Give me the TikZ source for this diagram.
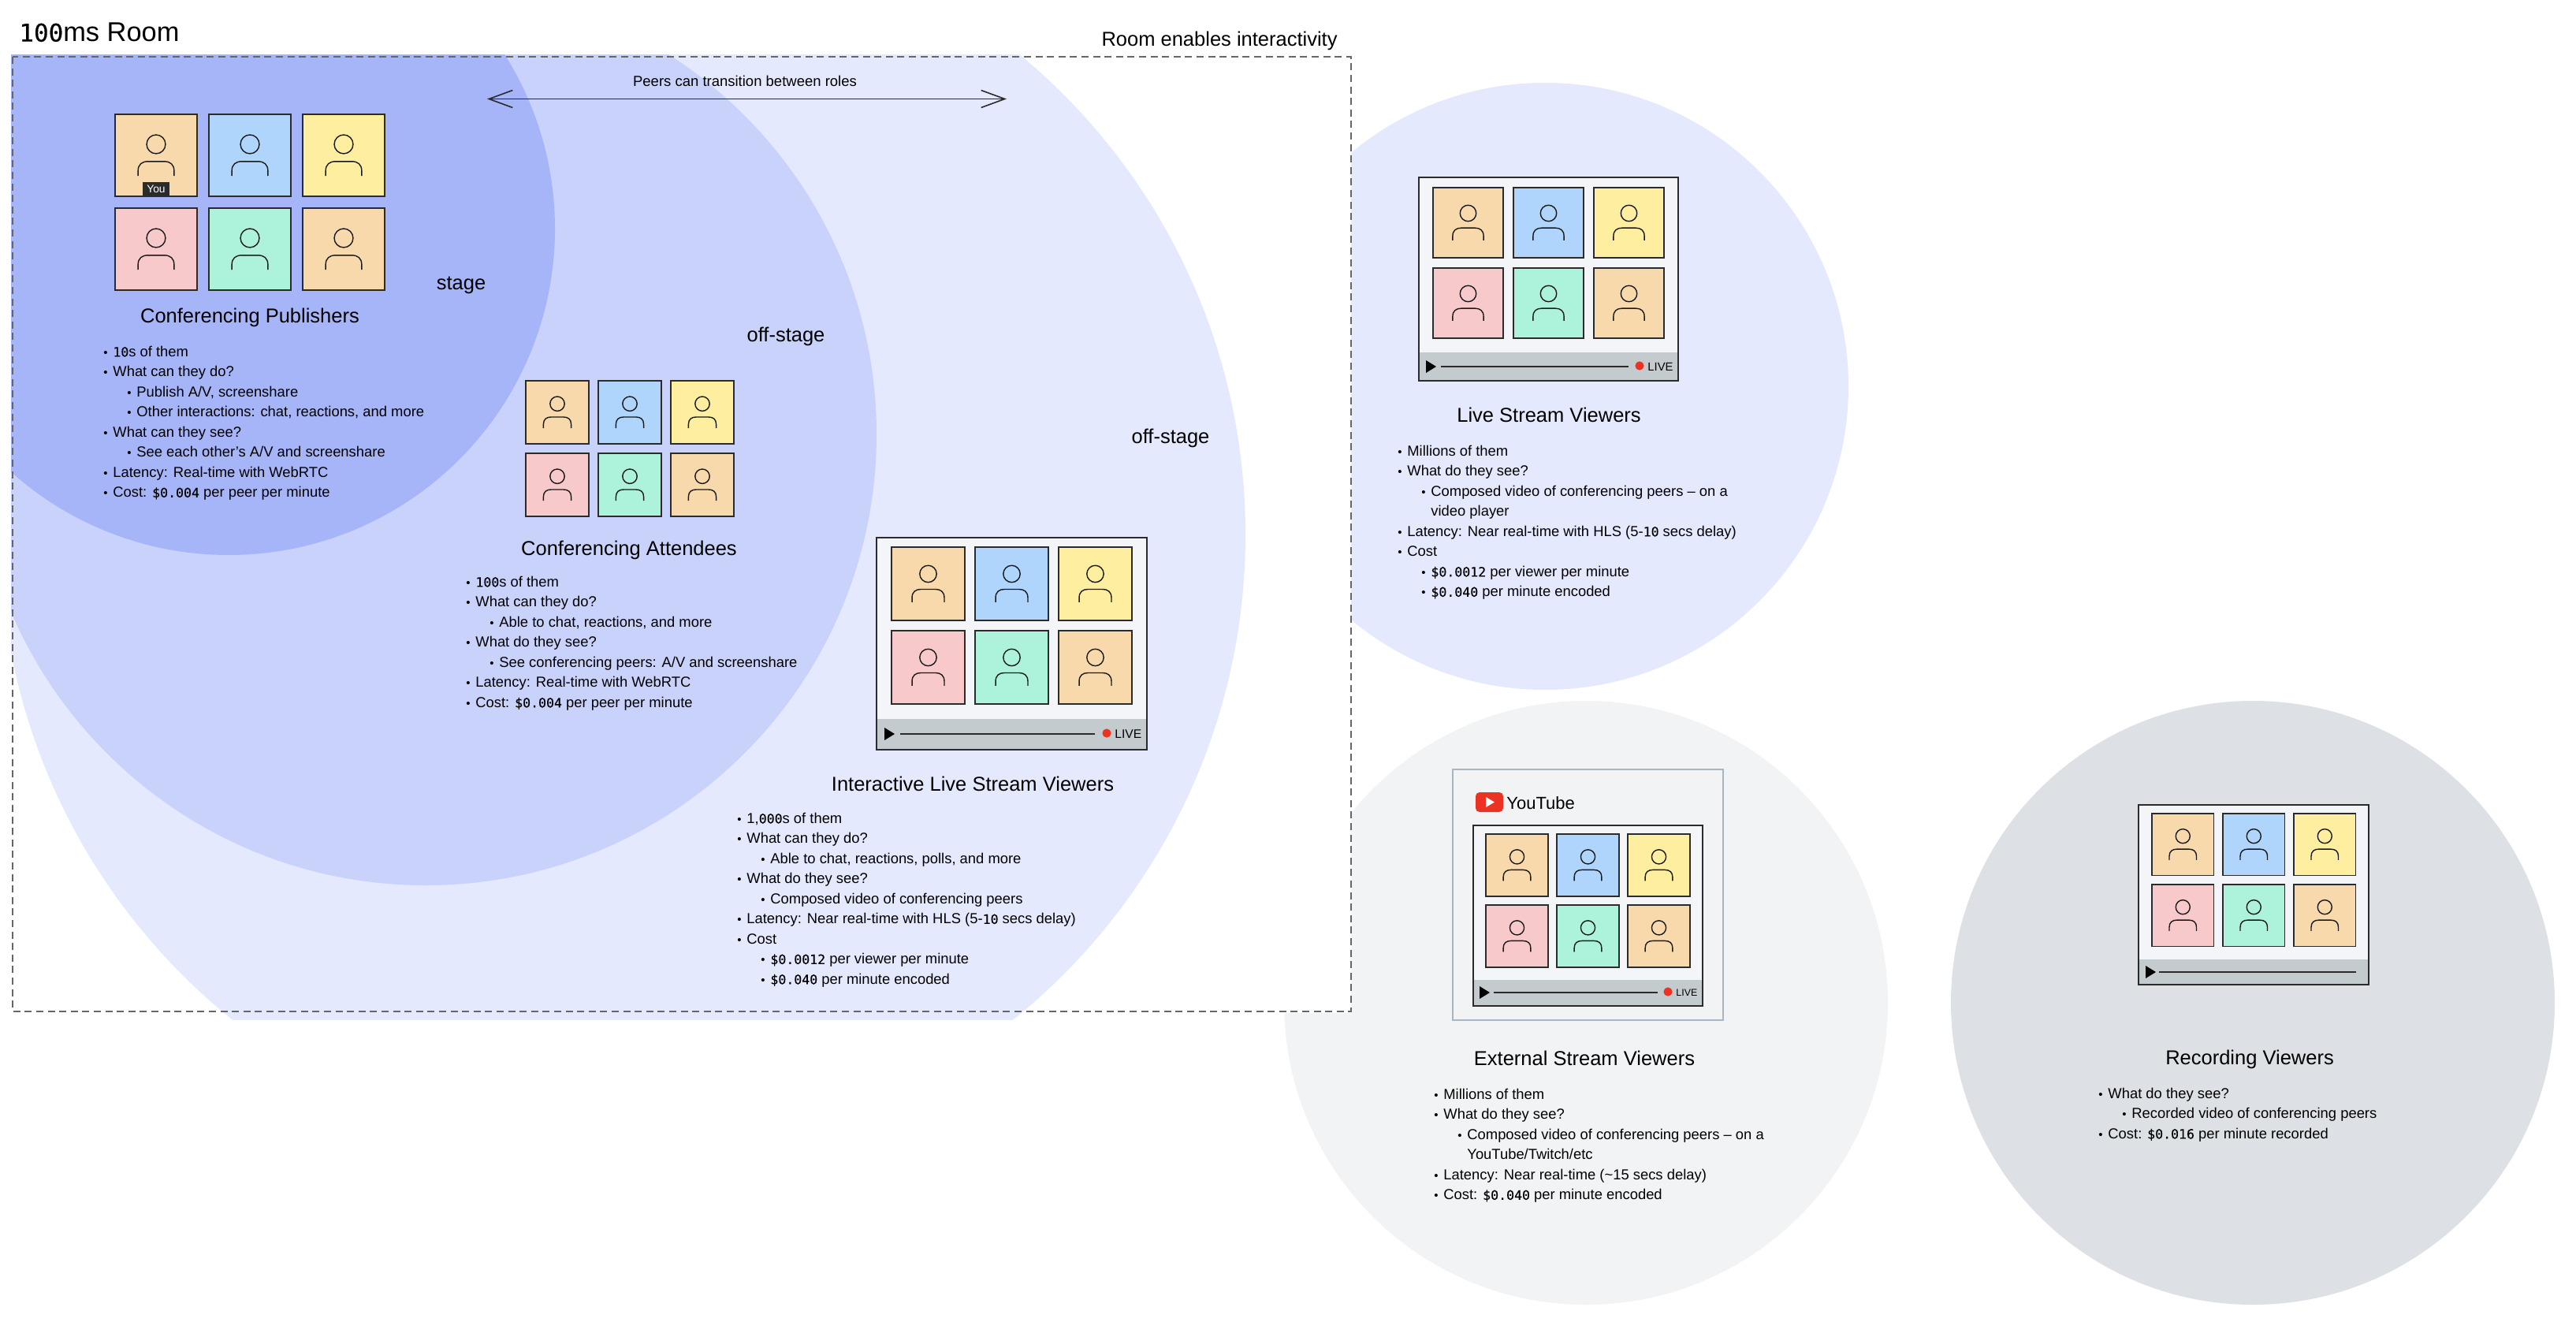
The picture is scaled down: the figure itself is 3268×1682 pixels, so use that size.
\documentclass[tikz,border=0pt]{standalone}
\usepackage{fontspec}
\setmainfont{Liberation Sans}
\newfontfamily\numfont[Scale=0.9,FakeBold=0.25]{DejaVu Sans Mono}
\usetikzlibrary{arrows.meta,positioning}

\definecolor{stagefill}{HTML}{A6B5F8}
\definecolor{attendfill}{HTML}{C8D2FB}
\definecolor{viewerfill}{HTML}{E4E9FE}
\definecolor{extfill}{HTML}{F1F3F5}
\definecolor{recfill}{HTML}{DDE0E5}
\definecolor{tileorange}{HTML}{F8D9AC}
\definecolor{tileblue}{HTML}{AFD5FD}
\definecolor{tileyellow}{HTML}{FEEEA0}
\definecolor{tilepink}{HTML}{F8C9CB}
\definecolor{tilegreen}{HTML}{ADF2DA}
\definecolor{screenfill}{HTML}{F3F5F8}
\definecolor{barfill}{HTML}{C4CBCE}
\definecolor{livered}{HTML}{EA3323}
\definecolor{inkline}{HTML}{2B2B2B}
\definecolor{outerline}{HTML}{A9B5C2}

\tikzset{
  peertile/.style={draw=inkline, line width=0.75pt, rectangle, inner sep=0pt, outer sep=0pt},
  person/.style={draw=black!90, line width=0.7pt},
  screenline/.style={draw=inkline, line width=0.8pt},
  seekline/.style={draw=inkline, line width=0.8pt},
  heading/.style={font=\fontsize{12.75}{15}\selectfont, inner sep=0pt},
  blurb/.style={anchor=north west, align=left, inner sep=0pt, font=\fontsize{9.2}{12.75}\selectfont},
}

\newcommand{\nm}[1]{{\numfont #1}}
\newcommand{\bl}{\rule{0pt}{9pt}\makebox[6pt][l]{\fontsize{7.5}{9}\selectfont\textbullet}}
\newcommand{\sbl}{\hspace{15pt}\bl}
\newcommand{\cbl}{\hspace{21pt}}

\newcommand{\peergrid}[5]{
  \node[peertile, minimum size=#4pt, fill=tileorange, anchor=north west] (#1a) at (#2,#3) {};
  \node[peertile, minimum size=#4pt, fill=tileblue,   right=#5pt of #1a] (#1b) {};
  \node[peertile, minimum size=#4pt, fill=tileyellow, right=#5pt of #1b] (#1c) {};
  \node[peertile, minimum size=#4pt, fill=tilepink,   below=#5pt of #1a] (#1d) {};
  \node[peertile, minimum size=#4pt, fill=tilegreen,  right=#5pt of #1d] (#1e) {};
  \node[peertile, minimum size=#4pt, fill=tileorange, right=#5pt of #1e] (#1f) {};
  \foreach \tl in {a,b,c,d,e,f} {
    \draw[person, shift={(#1\tl.center)}, scale=#4/50] (0,-13.5) circle (11.5)
      (-22,25) -- (-22,19) .. controls (-22,11) and (-17,7.5) .. (-10,7.5) -- (10,7.5)
      .. controls (17,7.5) and (22,11) .. (22,19) -- (22,25);
  }
}
\newcommand{\playerframe}[5]{
  \fill[screenfill] (#1,#2) rectangle (#3,#4);
  \fill[barfill]    (#1,#5) rectangle (#3,#4);
  \draw[screenline] (#1,#2) rectangle (#3,#4);
}
\newcommand{\playbar}[4]{
  \fill[black] (#1,#2-8) -- (#1+13,#2) -- (#1,#2+8) -- cycle;
  \draw[seekline] (#3,#2) -- (#4,#2);
}
\newcommand{\liveflag}[4]{
  \fill[livered] (#2,#3) circle (5.6);
  \node[anchor=west, inner sep=0pt, font=\fontsize{#4}{#4}\selectfont] (#1) at (#2+10,#3+1) {LIVE};
}

\begin{document}
\begin{tikzpicture}[x=0.5pt, y=-0.5pt]
    \useasboundingbox (0,0) rectangle (3268,1682);

    % circles outside the room
    \fill[viewerfill] (1960,490)  circle (385);
    \fill[extfill]    (2012,1272) circle (383);
    \fill[recfill]    (2858,1272) circle (383);
    \fill[white]      (14,69) rectangle (1714,1285);

    % circles inside the room
    \begin{scope}
        \clip (14,69) rectangle (1714,1293);
        \fill[viewerfill] (790,678) circle (790);
        \fill[attendfill] (540,551) circle (572);
        \fill[stagefill]  (290,290) circle (414);
    \end{scope}
    \draw[draw=black!60, line width=0.55pt, dash pattern=on 4.5pt off 2.8pt] (16,72) rectangle (1714,1283);

    \node[anchor=west, inner sep=0pt, font=\fontsize{17.2}{20}\selectfont] (roomtitle) at (24,41) {\nm{100}ms Room};
    \node[heading, anchor=east] (roomnote) at (1697,52) {Room enables interactivity};

    \coordinate (roleleft)  at (618,125.5);
    \coordinate (roleright) at (1277,125.5);
    \draw[{Straight Barb[length=15pt,width=11pt]}-{Straight Barb[length=15pt,width=11pt]}, draw=inkline, line width=0.8pt] (roleleft) -- (roleright);
    \node[inner sep=0pt, font=\fontsize{9.25}{12}\selectfont] (rolenote) at (945,103) {Peers can transition between roles};

    \node[heading] (stagetag)  at (585,362)  {stage};
    \node[heading] (offtagone) at (997,427)  {off-stage};
    \node[heading] (offtagtwo) at (1485,556) {off-stage};

    % conferencing publishers
    \peergrid{pub}{146}{145}{52}{7.5}
    \node[fill=inkline, text=white, inner sep=0pt, minimum width=17pt, minimum height=8.5pt, font=\fontsize{6.9}{8}\selectfont] (youtag) at (198,239.5) {You};
    \node[heading] (pubtitle) at (317,403) {Conferencing Publishers};
    \node[blurb] (publist) at (131,434) {
        \bl\nm{10}s of them\\
        \bl What can they do?\\
        \sbl Publish A/V, screenshare\\
        \sbl Other interactions: chat, reactions, and more\\
        \bl What can they see?\\
        \sbl See each other's A/V and screenshare\\
        \bl Latency: Real-time with WebRTC\\
        \bl Cost: \nm{\$0.004} per peer per minute};

    % conferencing attendees
    \peergrid{att}{667}{483}{40}{6}
    \node[heading] (atttitle) at (798,698) {Conferencing Attendees};
    \node[blurb] (attlist) at (591,726) {
        \bl\nm{100}s of them\\
        \bl What can they do?\\
        \sbl Able to chat, reactions, and more\\
        \bl What do they see?\\
        \sbl See conferencing peers: A/V and screenshare\\
        \bl Latency: Real-time with WebRTC\\
        \bl Cost: \nm{\$0.004} per peer per minute};

    % interactive live stream viewers
    \playerframe{1112}{682}{1455}{951}{912}
    \peergrid{ils}{1131}{694}{46.5}{6.5}
    \playbar{1122}{931}{1142}{1389}
    \liveflag{ilslive}{1404}{930}{7.8}
    \node[heading] (ilstitle) at (1234,994) {Interactive Live Stream Viewers};
    \node[blurb] (ilslist) at (935,1026) {
        \bl 1,\nm{000}s of them\\
        \bl What can they do?\\
        \sbl Able to chat, reactions, polls, and more\\
        \bl What do they see?\\
        \sbl Composed video of conferencing peers\\
        \bl Latency: Near real-time with HLS (5-\nm{10} secs delay)\\
        \bl Cost\\
        \sbl \nm{\$0.0012} per viewer per minute\\
        \sbl \nm{\$0.040} per minute encoded};

    % live stream viewers
    \playerframe{1800}{225}{2129}{483}{447}
    \peergrid{lsv}{1818}{238}{44.5}{6.5}
    \playbar{1809}{465}{1828}{2066}
    \liveflag{lsvlive}{2080}{464}{7.4}
    \node[heading] (lsvtitle) at (1965,526) {Live Stream Viewers};
    \node[blurb] (lsvlist) at (1773,560) {
        \bl Millions of them\\
        \bl What do they see?\\
        \sbl Composed video of conferencing peers -- on a\\
        \cbl video player\\
        \bl Latency: Near real-time with HLS (5-\nm{10} secs delay)\\
        \bl Cost\\
        \sbl \nm{\$0.0012} per viewer per minute\\
        \sbl \nm{\$0.040} per minute encoded};

    % external stream viewers
    \draw[draw=outerline, line width=0.9pt] (1843,976) rectangle (2186,1294);
    \fill[livered, rounded corners=2.5pt] (1872,1005) rectangle (1907,1030);
    \fill[white] (1885,1011) -- (1896,1017.5) -- (1885,1024) -- cycle;
    \node[anchor=west, inner sep=0pt, font=\fontsize{11}{13}\selectfont] (yttext) at (1911,1019) {YouTube};
    \playerframe{1869}{1047}{2160}{1276}{1243}
    \peergrid{ext}{1885}{1058}{39.5}{5.5}
    \playbar{1877}{1259}{1895}{2103}
    \liveflag{extlive}{2116}{1258}{6.2}
    \node[heading] (exttitle) at (2010,1342) {External Stream Viewers};
    \node[blurb] (extlist) at (1819,1376) {
        \bl Millions of them\\
        \bl What do they see?\\
        \sbl Composed video of conferencing peers -- on a\\
        \cbl YouTube/Twitch/etc\\
        \bl Latency: Near real-time (\textasciitilde 15 secs delay)\\
        \bl Cost: \nm{\$0.040} per minute encoded};

    % recording viewers
    \playerframe{2713}{1021}{3005}{1249}{1217}
    \peergrid{rec}{2730}{1032}{39.25}{5.75}
    \playbar{2722}{1233}{2739}{2989}
    \node[heading] (rectitle) at (2854,1344) {Recording Viewers};
    \node[blurb] (reclist) at (2662,1375) {
        \bl What do they see?\\
        \sbl Recorded video of conferencing peers\\
        \bl Cost: \nm{\$0.016} per minute recorded};
\end{tikzpicture}
\end{document}
